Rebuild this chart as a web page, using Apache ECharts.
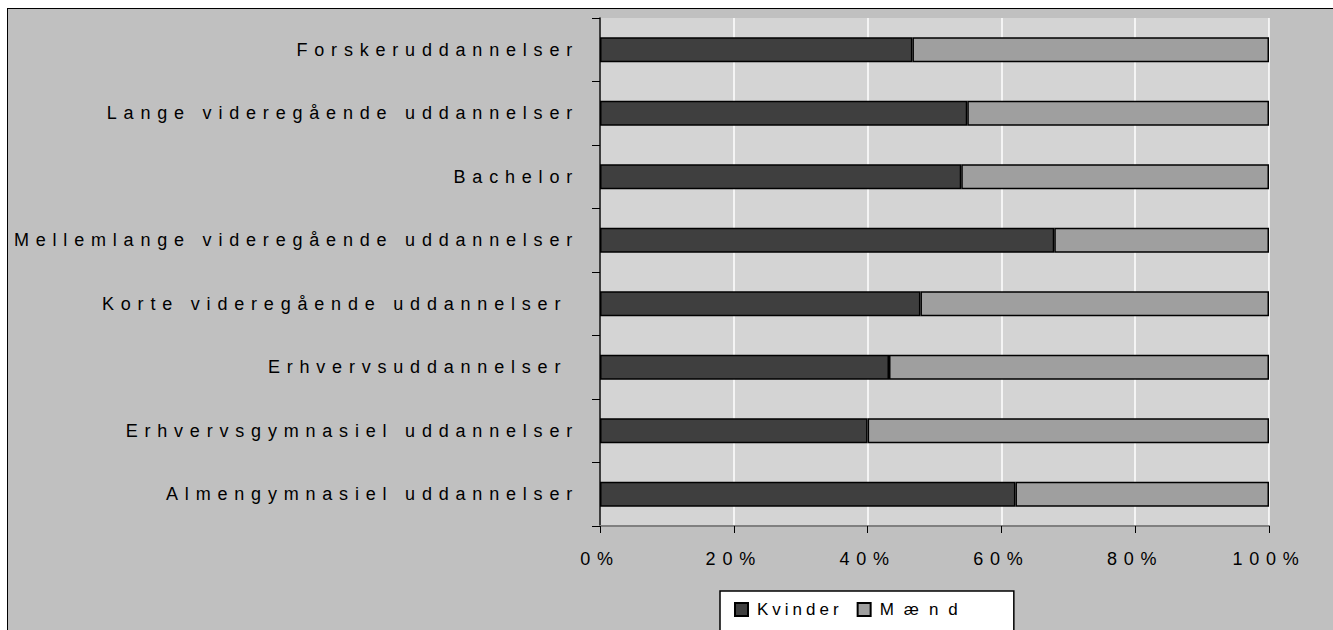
<!DOCTYPE html>
<html>
<head>
<meta charset="utf-8">
<script src="https://cdn.jsdelivr.net/npm/echarts@6/dist/echarts.min.js"></script>
<style>
  html, body { margin: 0; padding: 0; background: #ffffff; overflow: hidden; }
  #frame {
    position: absolute; left: 7px; top: 8px; width: 1400px; height: 700px;
    background: #c0c0c0; border: 1.5px solid #000000; box-sizing: border-box;
  }
  #chart { position: absolute; left: 0; top: 0; width: 1333px; height: 630px; }
  #chart svg text { letter-spacing: 6.8px; }
</style>
</head>
<body>
<div id="frame"></div>
<div id="chart"></div>
<script>
// Education levels, top to bottom
const categories = [
  'Forskeruddannelser',
  'Lange videregående uddannelser',
  'Bachelor',
  'Mellemlange videregående uddannelser',
  'Korte videregående uddannelser\u00a0',
  'Erhvervsuddannelser\u00a0',
  'Erhvervsgymnasiel uddannelser',
  'Almengymnasiel uddannelser'
];
// Share of graduates (%)
const kvinder = [46.7, 54.9, 54.0, 67.9, 47.9, 43.2, 40.0, 62.1];
const maend   = [53.3, 45.1, 46.0, 32.1, 52.1, 56.8, 60.0, 37.9];
const seriesNames = ['Kvinder', 'Mænd'];

// letter spacing used for the legend entries
const legendSpacing = { 'Kvinder': '4px', 'Mænd': '10px' };

const FONT = "'Liberation Sans', Arial, sans-serif";
const chart = echarts.init(document.getElementById('chart'), null, { renderer: 'svg' });

const barStyle = (color) => ({ color: color, borderColor: '#000000', borderWidth: 1.5 });

chart.setOption({
  backgroundColor: 'transparent',
  animation: false,
  textStyle: { fontFamily: FONT },
  grid: {
    left: 600, top: 18, width: 669, height: 508,
    show: true, backgroundColor: '#d4d4d4', borderWidth: 0
  },
  legend: {
    left: 720, top: 591,
    data: seriesNames,
    icon: 'rect', itemWidth: 13, itemHeight: 13, itemGap: 42,
    padding: [10, 86, 20, 14],
    backgroundColor: '#ffffff', borderColor: '#000000', borderWidth: 1.5,
    textStyle: { fontFamily: FONT, fontSize: 17, color: '#000000', padding: [0, 0, 0, 4] }
  },
  xAxis: {
    type: 'value', min: 0, max: 100, interval: 20,
    axisLine: { show: true, lineStyle: { color: '#808080', width: 2 } },
    axisTick: { show: true, length: 7, lineStyle: { color: '#000000', width: 1 } },
    splitLine: { show: true, lineStyle: { color: '#ffffff', width: 1.5 } },
    axisLabel: { formatter: '{value}%', fontSize: 18, color: '#000000', margin: 24, fontFamily: FONT }
  },
  yAxis: {
    type: 'category', data: categories, inverse: true,
    axisLine: { show: true, lineStyle: { color: '#000000', width: 1.5 } },
    axisTick: { show: true, length: 8, lineStyle: { color: '#000000', width: 1 } },
    axisLabel: { fontSize: 18, color: '#000000', margin: 21, fontFamily: FONT }
  },
  series: [
    { name: seriesNames[0], type: 'bar', stack: 'total', barWidth: 25, data: kvinder, itemStyle: barStyle('#3f3f3f') },
    { name: seriesNames[1], type: 'bar', stack: 'total', barWidth: 25, data: maend, itemStyle: barStyle('#9f9f9f') }
  ]
});

// tighten / widen the legend labels individually
document.querySelectorAll('#chart svg text').forEach((t) => {
  const s = legendSpacing[t.textContent.trim()];
  if (s) t.style.letterSpacing = s;
});
</script>
</body>
</html>
